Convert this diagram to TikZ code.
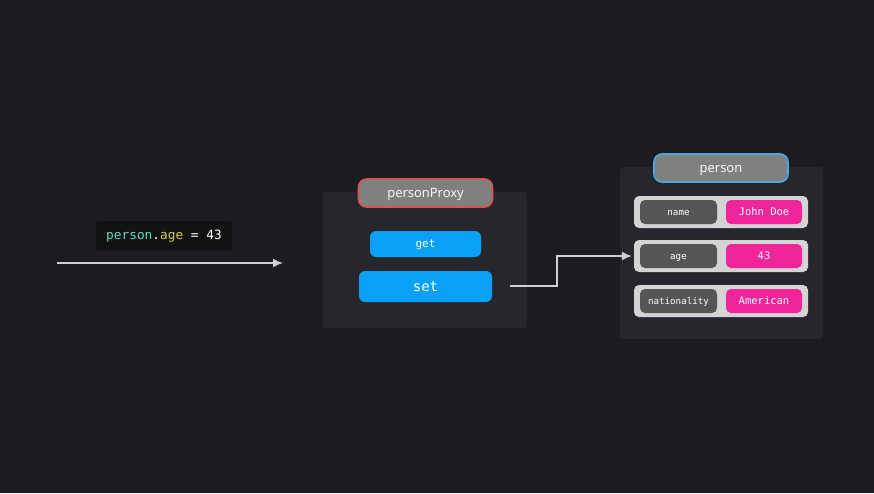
\documentclass[tikz,border=0pt]{standalone}
\usepackage{fontspec}
\setsansfont{Open Sans}
\setmonofont{DejaVu Sans Mono}
\usetikzlibrary{arrows.meta}
\definecolor{bg}{HTML}{1B1C20}
\definecolor{panel}{HTML}{25272D}
\definecolor{codebg}{HTML}{111214}
\definecolor{labelgray}{HTML}{808080}
\definecolor{proxyred}{HTML}{D9534F}
\definecolor{objblue}{HTML}{4AA8E0}
\definecolor{trapblue}{HTML}{0AA0F5}
\definecolor{rowgray}{HTML}{D4D4D4}
\definecolor{keygray}{HTML}{555555}
\definecolor{valpink}{HTML}{F0259A}
\definecolor{linegray}{HTML}{D0D0D0}
\definecolor{codeteal}{HTML}{62DDB8}
\definecolor{codeyellow}{HTML}{D9CB4E}
\tikzstyle{panelbox} = [fill=panel, rounded corners=3pt, draw=none, inner sep=0pt]
\tikzstyle{titlebox} = [fill=labelgray, rounded corners=8pt, line width=1.6pt, text=white, font=\sffamily\fontsize{13}{15}\selectfont, minimum width=134pt, minimum height=28pt, inner sep=0pt, text height=10.3pt, text depth=1.8pt]
\tikzstyle{trapbox} = [fill=trapblue, rounded corners=6pt, text=white, inner sep=0pt]
\tikzstyle{rowbox} = [fill=rowgray, rounded corners=5pt, minimum width=174pt, minimum height=32pt, inner sep=0pt]
\tikzstyle{keybox} = [fill=keygray, rounded corners=5pt, text=white, font=\ttfamily\fontsize{9.2}{11}\selectfont, minimum width=77pt, minimum height=24pt, inner sep=0pt, text height=7.4pt, text depth=1pt]
\tikzstyle{valbox} = [fill=valpink, rounded corners=5pt, text=white, font=\ttfamily\fontsize{10.5}{12}\selectfont, minimum width=76pt, minimum height=24pt, inner sep=0pt, text height=8.4pt, text depth=0.6pt]
\tikzstyle{arrow} = [draw=linegray, line width=1.6pt, -{Latex[length=10pt,width=9pt]}]

\begin{document}
\begin{tikzpicture}[x=1pt, y=-1pt] % pixel grid of the reference
    \fill[bg] (0,0) rectangle (874,493);
    \useasboundingbox (0,0) rectangle (874,493);

    % statement on the left
    \node (code) [fill=codebg, rounded corners=2pt, minimum width=136pt, minimum height=29pt, inner sep=0pt, text height=10pt, text depth=1.6pt, font=\ttfamily\fontsize{12.8}{15}\selectfont] at (164,235.5) {\textcolor{codeteal}{person}\textcolor{white}{.}\textcolor{codeyellow}{age}\textcolor{white}{\ =\ 43}};
    \coordinate (start) at (57,263);
    \coordinate (end) at (283,263);
    \draw[arrow] (start) -- (end);

    % proxy
    \node (proxypanel) [panelbox, minimum width=204pt, minimum height=136pt] at (425,260) {};
    \node (proxy) [titlebox, draw=proxyred] at (425.5,193) {personProxy};
    \node (get) [trapbox, minimum width=111pt, minimum height=26pt, text height=8.8pt, text depth=1.2pt, font=\ttfamily\fontsize{11}{13}\selectfont] at (425.5,244) {get};
    \node (set) [trapbox, minimum width=133pt, minimum height=31pt, text height=11.2pt, text depth=1.5pt, font=\ttfamily\fontsize{14}{16}\selectfont] at (425.5,286.5) {set};

    % target object
    \node (objpanel) [panelbox, minimum width=203pt, minimum height=172pt] at (721.5,253) {};
    \node (person) [titlebox, draw=objblue] at (721,168) {person};

    \node (namerow) [rowbox] at (721,212) {};
    \node (namekey) [keybox] at (678.5,212) {name};
    \node (nameval) [valbox] at (764,212) {John Doe};

    \node (agerow) [rowbox] at (721,256) {};
    \node (agekey) [keybox] at (678.5,256) {age};
    \node (ageval) [valbox] at (764,256) {43};

    \node (natrow) [rowbox] at (721,301) {};
    \node (natkey) [keybox] at (678.5,301) {nationality};
    \node (natval) [valbox] at (764,301) {American};

    \coordinate (setout) at (510,286);
    \draw[arrow, shorten >=2pt] (setout) -- ++(47,0) |- (agerow.west);

\end{tikzpicture}
\end{document}
